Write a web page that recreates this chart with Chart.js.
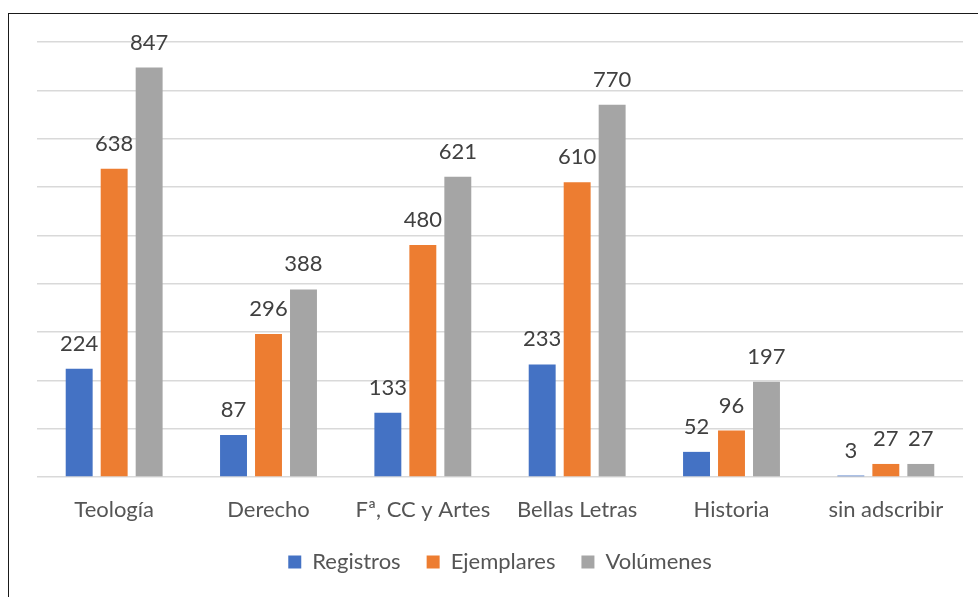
<!DOCTYPE html>
<html>
<head>
<meta charset="utf-8">
<script src="https://cdn.jsdelivr.net/npm/chart.js@4.4.0/dist/chart.umd.min.js"></script>
<style>
html,body{margin:0;padding:0;background:#fff;}
#wrap{position:relative;width:978px;height:597px;overflow:hidden;}
#frame{position:absolute;left:8px;top:13px;width:1100px;height:700px;border:1.5px solid #1a1a1a;box-sizing:border-box;pointer-events:none;}
canvas{position:absolute;left:0;top:0;}
</style>
</head>
<body>
<div id="wrap">
<canvas id="c" width="978" height="597"></canvas>
<div id="frame"></div>
</div>
<script>
const categories = ["Teología", "Derecho", "Fª, CC y Artes", "Bellas Letras", "Historia", "sin adscribir"];
const registros = [224, 87, 133, 233, 52, 3];
const ejemplares = [638, 296, 480, 610, 96, 27];
const volumenes = [847, 388, 621, 770, 197, 27];
const seriesNames = ["Registros", "Ejemplares", "Volúmenes"];
const yMax = 900;
const yStep = 100;

const FONT = "Lato, 'Open Sans', sans-serif";

const labelPlugin = {
  id: 'barLabels',
  afterDatasetsDraw(chart) {
    const ctx = chart.ctx;
    ctx.save();
    ctx.font = "22px " + FONT;
    ctx.fillStyle = "#404040";
    ctx.textAlign = "center";
    ctx.textBaseline = "alphabetic";
    chart.data.datasets.forEach((ds, i) => {
      const meta = chart.getDatasetMeta(i);
      meta.data.forEach((bar, j) => {
        ctx.fillText(String(ds.data[j]), bar.x, bar.y - 18);
      });
    });
    ctx.restore();
  }
};

new Chart(document.getElementById('c'), {
  type: 'bar',
  data: {
    labels: categories,
    datasets: [
      { label: seriesNames[0], data: registros, backgroundColor: '#4472C4' },
      { label: seriesNames[1], data: ejemplares, backgroundColor: '#ED7D31' },
      { label: seriesNames[2], data: volumenes, backgroundColor: '#A5A5A5' }
    ]
  },
  options: {
    responsive: false,
    animation: false,
    devicePixelRatio: 1,
    layout: { padding: { left: 37, right: 15, top: 42, bottom: 14 } },
    datasets: { bar: { categoryPercentage: 0.68, barPercentage: 0.77 } },
    scales: {
      x: {
        grid: { display: false },
        border: { display: false },
        ticks: { color: '#555555', font: { family: FONT, size: 22 }, padding: 12, maxRotation: 0 },
        afterFit(s) { s.height = 48; }
      },
      y: {
        min: 0, max: yMax,
        ticks: { display: false, stepSize: yStep },
        grid: { color: '#d9d9d9', lineWidth: 1.5, drawTicks: false },
        border: { display: false },
        afterFit(s) { s.width = 0; }
      }
    },
    plugins: {
      legend: {
        position: 'bottom',
        labels: { color: '#555555', font: { family: FONT, size: 22 }, boxWidth: 13, boxHeight: 13, padding: 26 }
      },
      tooltip: { enabled: false }
    }
  },
  plugins: [labelPlugin]
});
</script>
</body>
</html>
